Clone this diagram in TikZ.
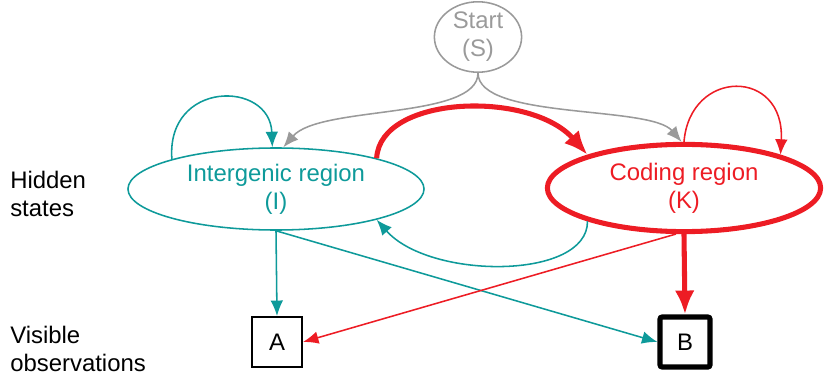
\documentclass[tikz,border=0pt]{standalone}
\usepackage{fontspec}
\setmainfont{Liberation Sans}
\usetikzlibrary{arrows.meta,shapes.geometric}
\definecolor{hmmteal}{HTML}{0E9A9A}
\definecolor{hmmred}{HTML}{ED1C24}
\definecolor{hmmgray}{HTML}{9A9A9A}
\tikzset{
  st/.style={ellipse, draw, line width=1.1pt, align=center, inner sep=0pt, font=\fontsize{17}{20}\selectfont},
  sts/.style={st, draw=hmmgray, text=hmmgray, minimum width=2.18cm, minimum height=1.75cm},
  sti/.style={st, draw=hmmteal, text=hmmteal, minimum width=7.4cm, minimum height=2.05cm},
  stk/.style={st, draw=hmmred, text=hmmred, line width=3.6pt, minimum width=6.83cm, minimum height=2.18cm},
  obs/.style={draw, line width=1.4pt, minimum size=1.25cm, inner sep=0pt, font=\fontsize{17}{20}\selectfont},
  obsb/.style={obs, line width=3.6pt, rounded corners=1.5pt},
  lbl/.style={anchor=west, align=left, inner sep=0pt, font=\fontsize{17}{20}\selectfont},
  ar/.style={-{Latex[length=11pt, width=9pt]}, line width=1.1pt},
  arg/.style={ar, hmmgray},
  art/.style={ar, hmmteal},
  arr/.style={ar, hmmred},
  arrb/.style={-{Latex[length=17pt, width=14pt]}, line width=3.6pt, hmmred},
}
\begin{document}
\begin{tikzpicture}[x=0.025cm, y=-0.025cm]
  \useasboundingbox (0,0) rectangle (824,375);
  \node[sts] (S) at (478,37) {Start\\(S)};
  \node[sti] (I) at (276,189) {Intergenic region\\(I)};
  \node[stk] (K) at (684,188) {Coding region\\(K)};
  \node[obs] (A) at (277,342) {A};
  \node[obsb] (B) at (685,342) {B};
  \node[lbl] (hid) at (10,194) {Hidden\\states};
  \node[lbl] (vis) at (10,349) {Visible\\observations};
  \draw[arg] (S.south) .. controls (478,120) and (320,105) .. (I.80);
  \draw[arg] (S.south) .. controls (478,120) and (650,105) .. (K.93);
  \draw[art] (I.164) .. controls (166,80) and (270,80) .. (I.95);
  \draw[arr] (K.90) .. controls (690,68) and (785,68) .. (K.19);
  \draw[arrb] (I.17) .. controls (380,95) and (530,90) .. (K.161);
  \draw[art] (K.199) .. controls (588,280) and (430,280) .. (I.343);
  \draw[art] (I.south) -- (A.north);
  \draw[art] (I.south) -- (B.west);
  \draw[arr] (K.260) -- (A.east);
  \draw[arrb] (K.south) -- (B.north);
\end{tikzpicture}
\end{document}
